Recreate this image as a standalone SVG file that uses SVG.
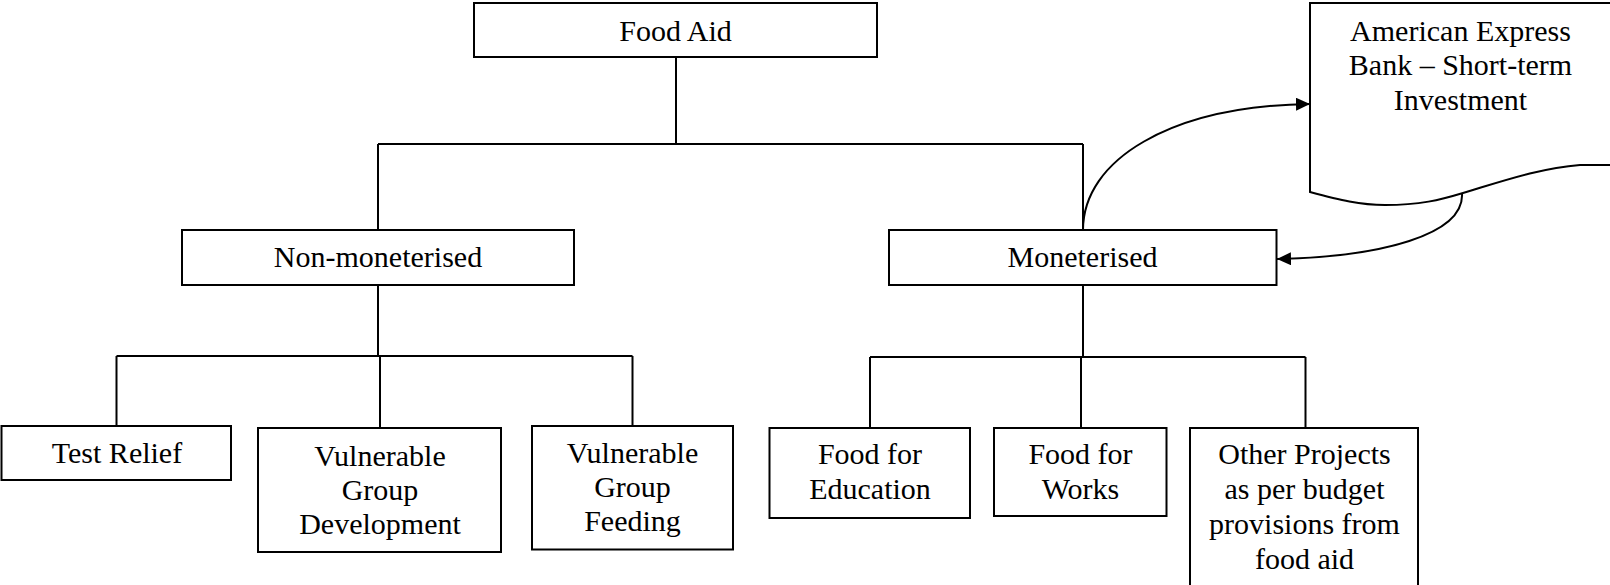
<svg xmlns="http://www.w3.org/2000/svg" width="1610" height="585" viewBox="0 0 1610 585">
  <style>
    .box { fill: #ffffff; stroke: #000000; stroke-width: 2; }
    .link { fill: none; stroke: #000000; stroke-width: 2; }
    .label { font-family: "Liberation Serif", "Times New Roman", serif; font-size: 30px; fill: #000000; text-anchor: middle; }
  </style>
  <defs>
    <marker id="arrow" markerUnits="userSpaceOnUse" markerWidth="15" markerHeight="14" refX="14" refY="6.5" orient="auto">
      <path d="M0,0 L14,6.5 L0,13 z" fill="#000000"/>
    </marker>
  </defs>
  <rect width="1610" height="585" fill="#ffffff"/>

  <!-- tree connectors and flow arrows -->
  <g id="connectors">
    <path class="link" d="M676,57 V144 M378,144 H1083 M378,144 V230 M1083,144 V230"/>
    <path class="link" d="M378,285 V356 M116.5,356 H632.5 M116.5,356 V426 M380,356 V428 M632.5,356 V426"/>
    <path class="link" d="M1083,285 V357 M870,357 H1305.5 M870,357 V428 M1081,357 V428 M1305.5,357 V428"/>
    <path class="link" d="M1083,230 C1083,160 1170,106 1310,104" marker-end="url(#arrow)"/>
    <path class="link" d="M1462,193 C1465,235 1380,257 1277,259" marker-end="url(#arrow)"/>
  </g>

  <g id="food-aid">
    <rect class="box" x="474" y="3" width="403" height="54"/>
    <text class="label" x="675.5" y="40.5">Food Aid</text>
  </g>

  <g id="non-moneterised">
    <rect class="box" x="182" y="230" width="392" height="55"/>
    <text class="label" x="378" y="266.5">Non-moneterised</text>
  </g>

  <g id="moneterised">
    <rect class="box" x="889" y="230" width="387.5" height="55"/>
    <text class="label" x="1082.5" y="266.5">Moneterised</text>
  </g>

  <g id="amex-investment">
    <path class="box" d="M1612,3 H1310 V192 C1340,200 1360,205 1385,205 C1420,205 1440,200 1463,193 C1500,182 1540,168 1580,165 L1612,165"/>
    <text class="label" x="1460.5" y="40.5">American Express</text>
    <text class="label" x="1460.5" y="75">Bank – Short-term</text>
    <text class="label" x="1460.5" y="109.5">Investment</text>
  </g>

  <g id="test-relief">
    <rect class="box" x="1.5" y="426" width="229.5" height="54"/>
    <text class="label" x="117" y="463">Test Relief</text>
  </g>

  <g id="vg-development">
    <rect class="box" x="258" y="428" width="243" height="124"/>
    <text class="label" x="380" y="465.5">Vulnerable</text>
    <text class="label" x="380" y="499.5">Group</text>
    <text class="label" x="380" y="533.5">Development</text>
  </g>

  <g id="vg-feeding">
    <rect class="box" x="532" y="426" width="201" height="123.5"/>
    <text class="label" x="632.5" y="462.5">Vulnerable</text>
    <text class="label" x="632.5" y="496.5">Group</text>
    <text class="label" x="632.5" y="530.5">Feeding</text>
  </g>

  <g id="food-for-education">
    <rect class="box" x="769.5" y="428" width="200.5" height="90"/>
    <text class="label" x="870" y="464">Food for</text>
    <text class="label" x="870" y="499">Education</text>
  </g>

  <g id="food-for-works">
    <rect class="box" x="994" y="428" width="172.5" height="88"/>
    <text class="label" x="1080.5" y="464">Food for</text>
    <text class="label" x="1080.5" y="499">Works</text>
  </g>

  <g id="other-projects">
    <rect class="box" x="1190" y="428" width="228" height="170"/>
    <text class="label" x="1304.5" y="464">Other Projects</text>
    <text class="label" x="1304.5" y="499">as per budget</text>
    <text class="label" x="1304.5" y="534">provisions from</text>
    <text class="label" x="1304.5" y="569">food aid</text>
  </g>
</svg>
